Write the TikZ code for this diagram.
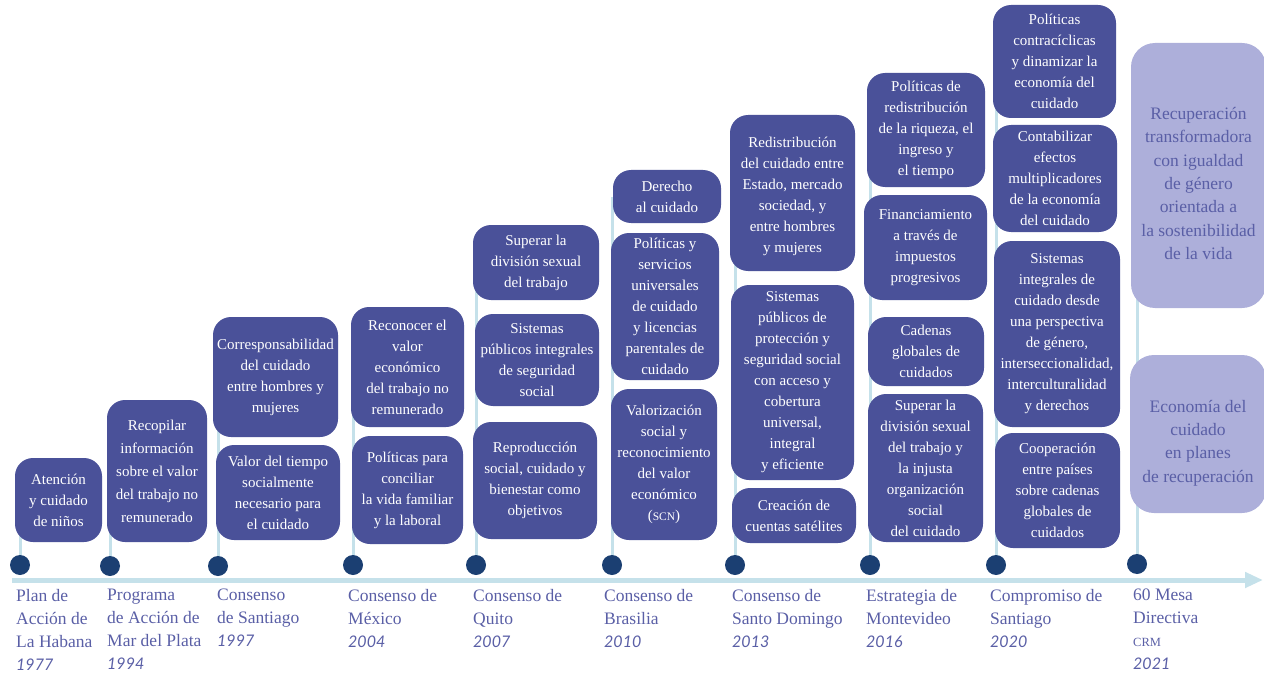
\documentclass[tikz,border=0pt]{standalone}
\usepackage{fontspec}
\setmainfont{Liberation Serif}
\newfontfamily\yearfont{Lato}
\usetikzlibrary{arrows.meta}
\pgfdeclarelayer{background}
\pgfsetlayers{background,main}

\definecolor{cardblue}{HTML}{4A5199}
\definecolor{softlilac}{HTML}{ADAFDA}
\definecolor{inkblue}{HTML}{5A5FA6}
\definecolor{stemblue}{HTML}{C5E1EA}
\definecolor{dotnavy}{HTML}{1B3F72}

% year in italic sans, small caps imitation for acronyms
\newcommand\yr[1]{{\yearfont\itshape\fontsize{16}{23}\selectfont #1}}
\newcommand\acr[1]{{\fontsize{11.5}{21}\selectfont #1}}
% invisible strut that lowers a text block inside its card
\newcommand\dropby[1]{\rule{0pt}{#1}}

% rounded card given by its corners (x1,y1) -- (x2,y2)
\newcommand\card[7][card]{%
  \node[#1, minimum width={#5-#3}, minimum height={#6-#4}] (#2)
    at ({(#3+#5)/2},{(#4+#6)/2}) {#7};}

\tikzset{
  card/.style={fill=cardblue, text=white, rounded corners=18pt, align=center,
    inner sep=0pt, font=\fontsize{15}{21}\selectfont},
  widecard/.style={card, font=\fontsize{15}{23}\selectfont},
  softcard/.style={fill=softlilac, text=inkblue, rounded corners=24pt, align=center,
    inner sep=0pt, font=\fontsize{17.5}{23.3}\selectfont},
  stem/.style={draw=stemblue, line width=3pt},
  axis/.style={draw=stemblue, line width=5pt, -{Triangle[length=18pt,width=15pt]}},
  milestone/.style={circle, fill=dotnavy, minimum size=20pt, inner sep=0pt},
  caption/.style={anchor=north west, align=left, inner sep=0pt, text=inkblue,
    font=\fontsize{17.5}{23}\selectfont},
}

\begin{document}
\begin{tikzpicture}[x=1pt,y=-1pt]
\useasboundingbox (0,0) rectangle (1264,674);

% ---- cards, column by column ----
\card{c1}{15}{458}{102}{542}{Atención\\y cuidado\\de niños}

\card[widecard]{c2}{107}{400}{207}{542}{Recopilar\\información\\sobre el valor\\del trabajo no\\remunerado}

\card{c3a}{213}{317}{338}{437}{Corresponsabilidad\\del cuidado\\entre hombres y\\mujeres}
\card{c3b}{216}{445}{340}{540}{Valor del tiempo\\socialmente\\necesario para\\el cuidado}

\card{c4a}{351}{307}{464}{427}{Reconocer el\\valor\\económico\\del trabajo no\\remunerado}
\card{c4b}{352}{436}{463}{544}{Políticas para\\conciliar\\la vida familiar\\y la laboral}

\card{c5a}{473}{225}{599}{300}{Superar la\\división sexual\\del trabajo}
\card{c5b}{475}{314}{599}{406}{Sistemas\\públicos integrales\\de seguridad\\social}
\card{c5c}{473}{422}{597}{539}{Reproducción\\social, cuidado y\\bienestar como\\objetivos}

\card{c6a}{613}{170}{721}{223}{Derecho\\al cuidado}
\card{c6b}{611}{233}{719}{380}{Políticas y\\servicios\\universales\\de cuidado\\y licencias\\parentales de\\cuidado}
\card{c6c}{611}{389}{717}{540}{Valorización\\social y\\reconocimiento\\del valor\\económico\\(\acr{SCN})}

\card{c7a}{730}{115}{855}{271}{\dropby{17pt}Redistribución\\del cuidado entre\\Estado, mercado\\sociedad, y\\entre hombres\\y mujeres}
\card{c7b}{731}{285}{854}{480}{Sistemas\\públicos de\\protección y\\seguridad social\\con acceso y\\cobertura\\universal,\\integral\\y eficiente}
\card{c7c}{732}{488}{856}{543}{Creación de\\cuentas satélites}

\card{c8a}{867}{73}{985}{187}{Políticas de\\redistribución\\de la riqueza, el\\ingreso y\\el tiempo}
\card{c8b}{864}{195}{987}{300}{Financiamiento\\a través de\\impuestos\\progresivos}
\card{c8c}{868}{317}{984}{386}{Cadenas\\globales de\\cuidados}
\card{c8d}{868}{394}{983}{542}{Superar la\\división sexual\\del trabajo y\\la injusta\\organización\\social\\del cuidado}

\card{c9a}{993}{5}{1116}{118}{Políticas\\contracíclicas\\y dinamizar la\\economía del\\cuidado}
\card{c9b}{993}{125}{1117}{232}{Contabilizar\\efectos\\multiplicadores\\de la economía\\del cuidado}
\card{c9c}{994}{241}{1120}{427}{Sistemas\\integrales de\\cuidado desde\\una perspectiva\\de género,\\interseccionalidad,\\interculturalidad\\y derechos}
\card{c9d}{995}{433}{1120}{548}{Cooperación\\entre países\\sobre cadenas\\globales de\\cuidados}

\card[softcard]{c10a}{1131}{43}{1266}{308}{\dropby{28pt}Recuperación\\transformadora\\con igualdad\\de género\\orientada a\\la sostenibilidad\\de la vida}
\card[softcard]{c10b}{1130}{355}{1266}{513}{\dropby{30pt}Economía del\\cuidado\\en planes\\de recuperación}

% ---- milestones on the time line ----
\node[milestone] (m1) at (20,565) {};
\node[milestone] (m2) at (110,566) {};
\node[milestone] (m3) at (218,566) {};
\node[milestone] (m4) at (353,565) {};
\node[milestone] (m5) at (476,565) {};
\node[milestone] (m6) at (612,565) {};
\node[milestone] (m7) at (735,565) {};
\node[milestone] (m8) at (870,565) {};
\node[milestone] (m9) at (996,565) {};
\node[milestone] (m10) at (1137,564) {};

\coordinate (axL) at (12,580);
\coordinate (axR) at (1263,580);

\begin{pgfonlayer}{background}
  \draw[axis] (axL) -- (axR);
  \draw[stem] (m1.center) -- (m1.center |- c1.center);
  \draw[stem] (m2.center) -- (m2.center |- c2.center);
  \draw[stem] (m3.center) -- (m3.center |- c3a.center);
  \draw[stem] (m4.center) -- (m4.center |- c4a.center);
  \draw[stem] (m5.center) -- (m5.center |- c5a.center);
  \draw[stem] (m6.center) -- (m6.center |- c6a.center);
  \draw[stem] (m7.center) -- (m7.center |- c7a.center);
  \draw[stem] (m8.center) -- (m8.center |- c8a.center);
  \draw[stem] (m9.center) -- (m9.center |- c9a.center);
  \draw[stem] (m10.center) -- (m10.center |- c10a.center);
\end{pgfonlayer}

% ---- captions under the time line ----
\node[caption] (t1) at (16,589) {Plan de\\Acción de\\La Habana\\\yr{1977}};
\node[caption] (t2) at (107,589) {Programa\\de Acción de\\Mar del Plata\\\yr{1994}};
\node[caption] (t3) at (217,589) {Consenso\\de Santiago\\\yr{1997}};
\node[caption] (t4) at (348,589) {Consenso de\\México\\\yr{2004}};
\node[caption] (t5) at (473,589) {Consenso de\\Quito\\\yr{2007}};
\node[caption] (t6) at (604,589) {Consenso de\\Brasilia\\\yr{2010}};
\node[caption] (t7) at (732,589) {Consenso de\\Santo Domingo\\\yr{2013}};
\node[caption] (t8) at (866,589) {Estrategia de\\Montevideo\\\yr{2016}};
\node[caption] (t9) at (990,589) {Compromiso de\\Santiago\\\yr{2020}};
\node[caption] (t10) at (1133,589) {60 Mesa\\Directiva\\{\fontsize{12.5}{23}\selectfont CRM}\\\yr{2021}};
\end{tikzpicture}
\end{document}
